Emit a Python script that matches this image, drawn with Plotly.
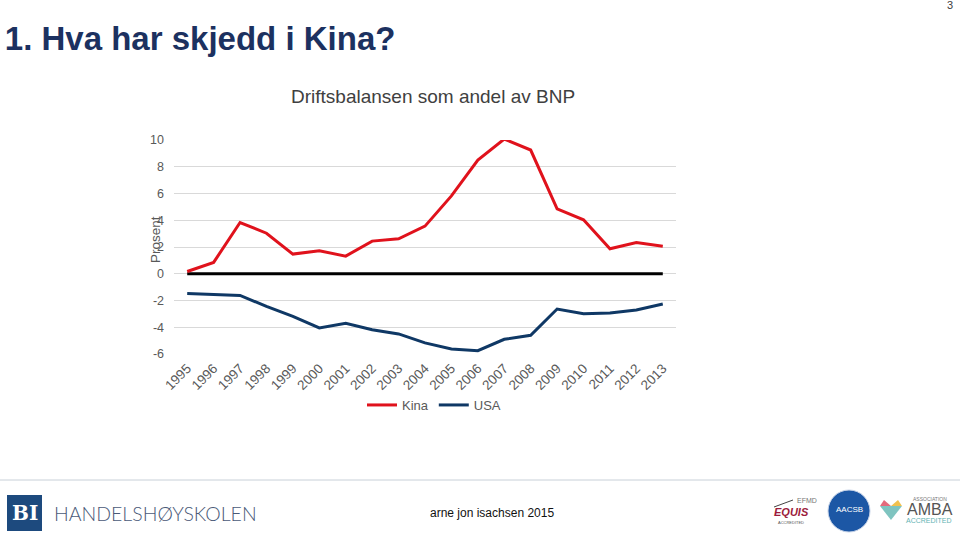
import plotly.graph_objects as go

years = [str(y) for y in range(1995, 2014)]
kina = [0.17, 0.85, 3.83, 3.03, 1.47, 1.72, 1.32, 2.44, 2.61, 3.56, 5.82, 8.5,
        10.07, 9.25, 4.85, 4.03, 1.87, 2.34, 2.06]
usa = [-1.47, -1.54, -1.62, -2.44, -3.18, -4.05, -3.71, -4.18, -4.5, -5.17, -5.62,
       -5.75, -4.9, -4.6, -2.64, -2.99, -2.94, -2.71, -2.26]
null_line = [0] * 19
y_ticks = [-6, -4, -2, 0, 2, 4, 6, 8, 10]
y_tick_labels = ["-6", "-4", "-2", "0", "2", "4", "6", "8", "10"]

W, H = 960, 537
L, R, T, B = 174, 676, 140, 354


def px(x):
    return (x - L) / (R - L)


def py(y):
    return (B - y) / (B - T)


FONT = "Liberation Sans, Arial, sans-serif"

fig = go.Figure()
fig.add_trace(go.Scatter(x=years, y=null_line, mode="lines", showlegend=False,
                         line=dict(color="#000000", width=3), hoverinfo="skip"))
fig.add_trace(go.Scatter(x=years, y=kina, mode="lines", name="Kina",
                         line=dict(color="#e0121c", width=3)))
fig.add_trace(go.Scatter(x=years, y=usa, mode="lines", name="USA",
                         line=dict(color="#0f3865", width=3)))

fig.update_layout(
    width=W, height=H,
    margin=dict(l=L, r=W - R, t=T, b=H - B, pad=0),
    paper_bgcolor="white", plot_bgcolor="white",
    font=dict(family=FONT, color="#595959", size=12),
    title=dict(text="<b>1. Hva har skjedd i Kina?</b>", xref="container", yref="container",
               x=0.005, xanchor="left", y=1 - 38 / H, yanchor="middle",
               font=dict(family=FONT, size=33, color="#1c3160")),
    xaxis=dict(type="category", range=[-0.5, 18.5], tickangle=-45, showgrid=False,
               showline=False, ticks="", tickfont=dict(size=13.5, color="#595959"),
               ticklabelstandoff=3, fixedrange=True),
    yaxis=dict(range=[-6, 10], tickvals=y_ticks, ticktext=y_tick_labels, showgrid=True,
               gridcolor="#d9d9d9", gridwidth=1, zeroline=False, showline=False, ticks="",
               tickfont=dict(size=12.5, color="#595959"), ticklabelstandoff=9,
               fixedrange=True),
    legend=dict(orientation="h", x=px(434), xanchor="center", y=py(405), yanchor="middle",
                font=dict(size=13, color="#595959"), tracegroupgap=0,
                bgcolor="rgba(0,0,0,0)"),
    showlegend=True,
)

ann = []
ann.append(dict(text="Driftsbalansen som andel av BNP", x=px(433), y=py(96), xref="paper",
                yref="paper", showarrow=False, xanchor="center", yanchor="middle",
                font=dict(size=19, color="#404040")))
ann.append(dict(text="Prosent", x=px(155), y=py(240), xref="paper", yref="paper",
                showarrow=False, textangle=-90, xanchor="center", yanchor="middle",
                font=dict(size=13.5, color="#595959")))
ann.append(dict(text="3", x=px(950), y=py(5), xref="paper", yref="paper", showarrow=False,
                xanchor="center", yanchor="middle", font=dict(size=11, color="#404040")))
ann.append(dict(text="<b>BI</b>", x=px(24.5), y=py(513), xref="paper", yref="paper",
                showarrow=False, xanchor="center", yanchor="middle",
                font=dict(family="DejaVu Serif, serif", size=20, color="white")))
ann.append(dict(text="HANDELSHØYSKOLEN", x=px(52), y=py(513), xref="paper", yref="paper",
                showarrow=False, xanchor="left", yanchor="middle",
                font=dict(family="Lato, Liberation Sans, sans-serif", size=19.5,
                          color="#4a5a78", weight=300)))
ann.append(dict(text="arne jon isachsen 2015", x=px(492), y=py(513), xref="paper",
                yref="paper", showarrow=False, xanchor="center", yanchor="middle",
                font=dict(size=12, color="#111111")))
# EQUIS
ann.append(dict(text="EFMD", x=px(795), y=py(500), xref="paper", yref="paper",
                showarrow=False, xanchor="left", yanchor="middle",
                font=dict(size=7, color="#777777")))
ann.append(dict(text="<b><i>EQUIS</i></b>", x=px(791), y=py(512), xref="paper", yref="paper",
                showarrow=False, xanchor="center", yanchor="middle",
                font=dict(size=11, color="#9c1c3c")))
ann.append(dict(text="ACCREDITED", x=px(791), y=py(522), xref="paper", yref="paper",
                showarrow=False, xanchor="center", yanchor="middle",
                font=dict(size=4, color="#555555")))
# AACSB
ann.append(dict(text="AACSB", x=px(849), y=py(510), xref="paper", yref="paper",
                showarrow=False, xanchor="center", yanchor="middle",
                font=dict(size=8, color="white")))
# AMBA
ann.append(dict(text="AMBA", x=px(905), y=py(510), xref="paper", yref="paper",
                showarrow=False, xanchor="left", yanchor="middle",
                font=dict(size=16, color="#555555")))
ann.append(dict(text="ASSOCIATION", x=px(930), y=py(499), xref="paper", yref="paper",
                showarrow=False, xanchor="center", yanchor="middle",
                font=dict(size=5, color="#777777")))
ann.append(dict(text="ACCREDITED", x=px(929), y=py(520), xref="paper", yref="paper",
                showarrow=False, xanchor="center", yanchor="middle",
                font=dict(size=7, color="#5fb3b3")))
fig.update_layout(annotations=ann)

shapes = []
shapes.append(dict(type="line", xref="paper", yref="paper", x0=px(0), x1=px(960),
                   y0=py(480), y1=py(480), line=dict(color="#c8d0d8", width=1)))
shapes.append(dict(type="rect", xref="paper", yref="paper", x0=px(7), x1=px(42),
                   y0=py(495), y1=py(531), fillcolor="#1d4a7e", line=dict(width=0)))
shapes.append(dict(type="circle", xref="paper", yref="paper", x0=px(828), x1=px(870),
                   y0=py(490), y1=py(532), fillcolor="#1c57a5",
                   line=dict(color="#c8d4e8", width=1)))
shapes.append(dict(type="path", xref="paper", yref="paper",
                   path="M {} {} L {} {} L {} {} L {} {} Z".format(
                       px(880), py(506), px(902), py(506), px(891), py(520), px(880), py(506)),
                   fillcolor="#7fc4c0", line=dict(width=0)))
shapes.append(dict(type="path", xref="paper", yref="paper",
                   path="M {} {} L {} {} L {} {} Z".format(
                       px(884), py(500), px(891), py(506), px(880), py(506)),
                   fillcolor="#e46a7c", line=dict(width=0)))
shapes.append(dict(type="path", xref="paper", yref="paper",
                   path="M {} {} L {} {} L {} {} Z".format(
                       px(898), py(500), px(902), py(506), px(891), py(506)),
                   fillcolor="#f2c14e", line=dict(width=0)))
shapes.append(dict(type="line", xref="paper", yref="paper", x0=px(774), x1=px(793),
                   y0=py(507), y1=py(500), line=dict(color="#444444", width=1)))
fig.update_layout(shapes=shapes)

fig.write_html("out.html", config={"displayModeBar": False},
               post_script="document.body.style.margin='0';document.body.style.overflow='hidden';")
